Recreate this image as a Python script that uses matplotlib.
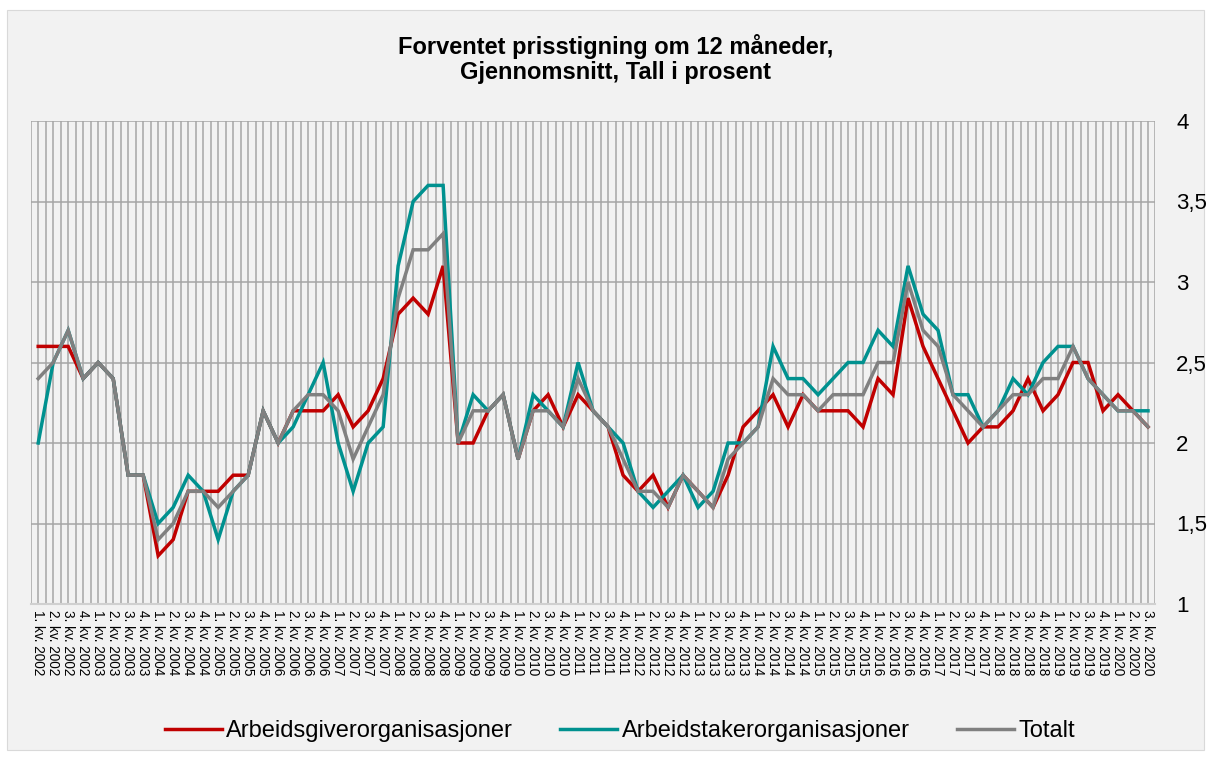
#!/usr/bin/env python3
# -*- coding: utf-8 -*-
"""
Forventet prisstigning om 12 maaneder -- three series, quarterly 2002-2020
"""

import numpy as np
import matplotlib
matplotlib.use('Agg')
import matplotlib.pyplot as plt
from matplotlib.patches import Rectangle
from matplotlib.ticker import FuncFormatter, MultipleLocator

plt.rcParams['font.family'] = ['Liberation Sans', 'DejaVu Sans']

##! Data:
Years    = list(range(2002, 2021))
Quarters = [f"{q}. kv. {y}" for y in Years for q in (1, 2, 3, 4)][:75]

Arbgiver = [2.6, 2.6, 2.6, 2.4, 2.5, 2.4, 1.8, 1.8, 1.3, 1.4, 1.7, 1.7, 1.7,
            1.8, 1.8, 2.2, 2.0, 2.2, 2.2,
            2.2, 2.3, 2.1, 2.2, 2.4, 2.8, 2.9, 2.8, 3.1, 2.0, 2.0, 2.2,
            2.3, 1.9, 2.2, 2.3, 2.1, 2.3, 2.2, 2.1, 1.8, 1.7, 1.8, 1.6, 1.8,
            1.7, 1.6, 1.8, 2.1, 2.2, 2.3, 2.1,
            2.3, 2.2, 2.2, 2.2, 2.1, 2.4, 2.3, 2.9, 2.6, 2.4, 2.2, 2.0, 2.1,
            2.1, 2.2, 2.4, 2.2, 2.3, 2.5, 2.5, 2.2, 2.3, 2.2, 2.1]

Arbtaker = [2.0, 2.5, 2.7, 2.4, 2.5, 2.4, 1.8, 1.8, 1.5, 1.6, 1.8, 1.7, 1.4,
            1.7, 1.8, 2.2, 2.0, 2.1, 2.3,
            2.5, 2.0, 1.7, 2.0, 2.1, 3.1, 3.5, 3.6, 3.6, 2.0, 2.3, 2.2,
            2.3, 1.9, 2.3, 2.2, 2.1, 2.5, 2.2, 2.1, 2.0, 1.7, 1.6, 1.7, 1.8,
            1.6, 1.7, 2.0, 2.0, 2.1, 2.6, 2.4,
            2.4, 2.3, 2.4, 2.5, 2.5, 2.7, 2.6, 3.1, 2.8, 2.7, 2.3, 2.3, 2.1,
            2.2, 2.4, 2.3, 2.5, 2.6, 2.6, 2.4, 2.3, 2.2, 2.2, 2.2]

Totalt   = [2.4, 2.5, 2.7, 2.4, 2.5, 2.4, 1.8, 1.8, 1.4, 1.5, 1.7, 1.7, 1.6,
            1.7, 1.8, 2.2, 2.0, 2.2, 2.3,
            2.3, 2.2, 1.9, 2.1, 2.3, 2.9, 3.2, 3.2, 3.3, 2.0, 2.2, 2.2,
            2.3, 1.9, 2.2, 2.2, 2.1, 2.4, 2.2, 2.1, 1.9, 1.7, 1.7, 1.6, 1.8,
            1.7, 1.6, 1.9, 2.0, 2.1, 2.4, 2.3,
            2.3, 2.2, 2.3, 2.3, 2.3, 2.5, 2.5, 3.0, 2.7, 2.6, 2.3, 2.2, 2.1,
            2.2, 2.3, 2.3, 2.4, 2.4, 2.6, 2.4, 2.3, 2.2, 2.2, 2.1]

Names  = ['Arbeidsgiverorganisasjoner', 'Arbeidstakerorganisasjoner', 'Totalt']
Colors = ['#C00000', '#00918F', '#808080']

##! Figure:
W, H = 1211, 760
fig = plt.figure(figsize=(W/100, H/100), dpi=100, facecolor='white')
fig.patches.append(Rectangle((7/W, 10/H), 1197/W, 740/H,
                             transform=fig.transFigure, facecolor='#F2F2F2',
                             edgecolor='#D9D9D9', linewidth=0.8, zorder=-5))

ax = fig.add_axes([30.7/W, 1 - 604/H, (1155.5 - 30.7)/W, (604 - 121)/H])
ax.set_zorder(2)
ax.set_facecolor('#F2F2F2')

x = np.arange(len(Quarters))
for vals, name, col in zip([Arbgiver, Arbtaker, Totalt], Names, Colors):
    ax.plot(x, vals, color=col, lw=2.5, label=name, solid_joinstyle='miter',
            zorder=3)

ax.set_xlim(-0.5, len(Quarters) - 0.5)
ax.set_ylim(1, 4)
ax.set_xticks(x)
ax.set_xticklabels(Quarters, rotation=-90, fontsize=9.8)
ax.set_xticks(np.arange(-0.5, len(Quarters)), minor=True)
ax.yaxis.set_major_locator(MultipleLocator(0.5))
ax.yaxis.set_major_formatter(FuncFormatter(
    lambda v, p: ('%g' % v).replace('.', ',')))
ax.yaxis.tick_right()
ax.tick_params(axis='y', length=0, pad=15, labelsize=16)
ax.tick_params(axis='x', which='both', length=0, pad=4)
for lab in ax.get_yticklabels():
    lab.set_horizontalalignment('left')

ax.grid(True, which='major', axis='both', color='#A6A6A6', lw=1.1, zorder=1)
ax.grid(True, which='minor', axis='x', color='#A6A6A6', lw=1.1, zorder=1)
ax.set_axisbelow(True)
for s in ['top', 'left', 'right']:
    ax.spines[s].set_visible(False)
ax.spines['bottom'].set_color('#D0D0D0')
ax.spines['bottom'].set_linewidth(1.5)

fig.text(616/W, 1 - 59/H,
         'Forventet prisstigning om 12 måneder,\nGjennomsnitt, Tall i prosent',
         ha='center', va='center', fontsize=17, fontweight='bold',
         linespacing=1.12)

fig.legend(loc='center', bbox_to_anchor=(620/W, 1 - 731/H), ncol=3,
           frameon=False, fontsize=17, handlelength=2.4, handletextpad=0.2,
           columnspacing=2.0)

plt.savefig('out.png', dpi=100, facecolor='white')
plt.close()
